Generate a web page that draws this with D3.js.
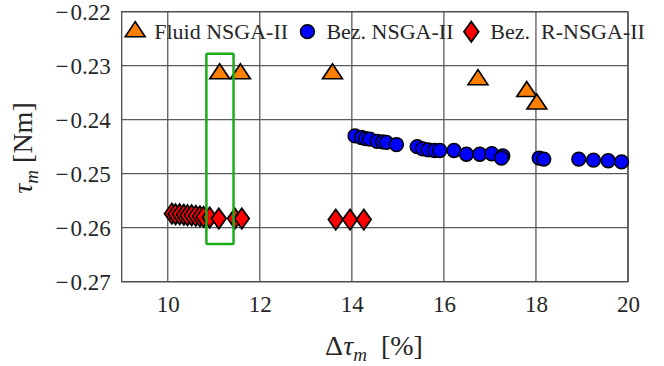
<!DOCTYPE html>
<html>
<head>
<meta charset="utf-8">
<script src="https://cdn.jsdelivr.net/npm/d3@7"></script>
<style>
  body { margin: 0; background: #fff; }
</style>
</head>
<body>
<div id="chart-container"></div>
<script>
// Fluid NSGA-II (triangles)
const fluidX = [11.13, 11.58, 13.58, 16.74, 17.80, 18.02];
const fluidY = [-0.2315, -0.2315, -0.2315, -0.2326, -0.2348, -0.2371];

// Bez. NSGA-II (circles)
const bezX = [14.07, 14.21, 14.30, 14.39, 14.55, 14.67, 14.75, 14.97, 15.42, 15.54, 15.66, 15.80, 15.91,
              16.22, 16.49, 16.78, 17.04, 17.28, 17.25, 18.07, 18.17, 18.93, 19.25, 19.57, 19.86];
const bezY = [-0.2430, -0.2433, -0.2435, -0.2436, -0.2440, -0.2441, -0.2442, -0.2446, -0.2450, -0.2454, -0.2456, -0.2457, -0.2457,
              -0.2457, -0.2464, -0.2464, -0.2463, -0.2467, -0.2471, -0.2471, -0.2473, -0.2473, -0.2475, -0.2476, -0.2478];

// Bez. R-NSGA-II (diamonds)
const rbezX = [10.09, 10.17, 10.26, 10.35, 10.43, 10.52, 10.61, 10.70, 10.78, 10.91, 11.11, 11.46, 11.61, 13.65, 13.96, 14.26];
const rbezY = [-0.2574, -0.2575, -0.2575, -0.2576, -0.2577, -0.2577, -0.2578, -0.2579, -0.2580, -0.2581, -0.2583, -0.2583, -0.2583, -0.2585, -0.2585, -0.2585];

// highlighted region [x0, x1, y0, y1]
const highlight = [10.84, 11.43, -0.2278, -0.2630];

const xTicks = [10, 12, 14, 16, 18, 20];
const yTicks = [-0.22, -0.23, -0.24, -0.25, -0.26, -0.27];
const legendLabels = ["Fluid NSGA-II", "Bez. NSGA-II", "Bez.  R-NSGA-II"];

const serif = "'Liberation Serif', 'Times New Roman', 'DejaVu Serif', serif";
const textColor = "#262626";

const width = 664, height = 366;
const margin = { top: 11.7, right: 36, bottom: 84.3, left: 121.7 };
const innerW = width - margin.left - margin.right;
const innerH = height - margin.top - margin.bottom;

const root = d3.select("#chart-container")
    .append("svg")
    .attr("width", width)
    .attr("height", height)
    .style("font-family", serif);
const svg = root.append("g")
    .attr("transform", `translate(${margin.left},${margin.top})`);

const xScale = d3.scaleLinear().domain([9, 20]).range([0, innerW]);
const yScale = d3.scaleLinear().domain([-0.27, -0.22]).range([innerH, 0]);

const gridColor = "#5a5a5a";

// grid lines
svg.append("g")
    .selectAll("line")
    .data(xTicks)
    .enter()
    .append("line")
    .attr("x1", d => xScale(d)).attr("x2", d => xScale(d))
    .attr("y1", 0).attr("y2", innerH)
    .attr("stroke", gridColor).attr("stroke-width", 1.3);

svg.append("g")
    .selectAll("line")
    .data(yTicks)
    .enter()
    .append("line")
    .attr("x1", 0).attr("x2", innerW)
    .attr("y1", d => yScale(d)).attr("y2", d => yScale(d))
    .attr("stroke", gridColor).attr("stroke-width", 1.3);

// box
svg.append("rect")
    .attr("width", innerW).attr("height", innerH)
    .attr("fill", "none").attr("stroke", "#4d4d4d").attr("stroke-width", 1.3);

// x axis
const xAxis = svg.append("g")
    .attr("transform", `translate(0,${innerH})`)
    .call(d3.axisBottom(xScale).tickValues(xTicks).tickSize(0).tickPadding(14));
xAxis.select(".domain").remove();
xAxis.selectAll("text")
    .style("font-family", serif).style("font-size", "23px").attr("fill", textColor);

// y axis
const yAxis = svg.append("g")
    .call(d3.axisLeft(yScale).tickValues(yTicks).tickSize(0).tickPadding(11)
        .tickFormat(d => "\u2212\u200a" + d3.format(".2f")(Math.abs(d))));
yAxis.select(".domain").remove();
yAxis.selectAll("text")
    .style("font-family", serif).style("font-size", "23px").attr("fill", textColor);

// markers
const tri = d3.symbol().type(d3.symbolTriangle).size(130);
const circ = d3.symbol().type(d3.symbolCircle).size(150);
const diam = d3.symbol().type(d3.symbolDiamond).size(120);

svg.selectAll(".fluid")
    .data(d3.zip(fluidX, fluidY))
    .enter()
    .append("path")
    .attr("class", "fluid")
    .attr("d", tri)
    .attr("transform", d => `translate(${xScale(d[0])},${yScale(d[1])}) scale(1.15,1)`)
    .attr("fill", "#ff8000").attr("stroke", "#000").attr("stroke-width", 1.5);

svg.selectAll(".bez")
    .data(d3.zip(bezX, bezY))
    .enter()
    .append("path")
    .attr("class", "bez")
    .attr("d", circ)
    .attr("transform", d => `translate(${xScale(d[0])},${yScale(d[1])})`)
    .attr("fill", "#0000ff").attr("stroke", "#000").attr("stroke-width", 1.5);

svg.selectAll(".rbez")
    .data(d3.zip(rbezX, rbezY))
    .enter()
    .append("path")
    .attr("class", "rbez")
    .attr("d", diam)
    .attr("transform", d => `translate(${xScale(d[0])},${yScale(d[1])}) scale(1.25,1)`)
    .attr("fill", "#ff0000").attr("stroke", "#000").attr("stroke-width", 1.5);

// highlight rectangle
svg.append("rect")
    .attr("x", xScale(highlight[0]))
    .attr("y", yScale(highlight[2]))
    .attr("width", xScale(highlight[1]) - xScale(highlight[0]))
    .attr("height", yScale(highlight[3]) - yScale(highlight[2]))
    .attr("fill", "none").attr("stroke", "#1aae1a").attr("stroke-width", 2.5).attr("rx", 1);

// legend
const legendX = [13.5, 185.7, 349.6];
const legendY = 20;
const legend = svg.append("g");
const legendShapes = [
    { sym: tri, fill: "#ff8000", sx: 1.15 },
    { sym: circ, fill: "#0000ff", sx: 1 },
    { sym: diam, fill: "#ff0000", sx: 1.25 }
];
legendShapes.forEach((s, i) => {
    legend.append("path")
        .attr("d", s.sym)
        .attr("transform", `translate(${legendX[i]},${legendY}) scale(${s.sx},1)`)
        .attr("fill", s.fill).attr("stroke", "#000").attr("stroke-width", 1.5);
    legend.append("text")
        .attr("x", legendX[i] + 19)
        .attr("y", legendY)
        .attr("dy", "0.35em")
        .style("font-family", serif)
        .style("font-size", "22px")
        .style("white-space", "pre")
        .attr("fill", textColor)
        .text(legendLabels[i]);
});

// axis labels
const xl = root.append("text")
    .attr("x", 374).attr("y", 355)
    .attr("text-anchor", "middle")
    .attr("fill", textColor)
    .style("font-family", serif)
    .style("font-size", "28px")
    .style("white-space", "pre");
xl.append("tspan").text("Δ");
xl.append("tspan").attr("font-style", "italic").text("τ");
xl.append("tspan").attr("font-style", "italic").style("font-size", "19px").attr("dy", 6).text("m");
xl.append("tspan").attr("dy", -6).text("  [%]");

const yl = root.append("text")
    .attr("transform", "translate(32,148) rotate(-90)")
    .attr("text-anchor", "middle")
    .attr("fill", textColor)
    .style("font-family", serif)
    .style("font-size", "28px")
    .style("white-space", "pre");
yl.append("tspan").attr("font-style", "italic").text("τ");
yl.append("tspan").attr("font-style", "italic").style("font-size", "19px").attr("dy", 6).text("m");
yl.append("tspan").attr("dy", -6).text(" [Nm]");
</script>
</body>
</html>
